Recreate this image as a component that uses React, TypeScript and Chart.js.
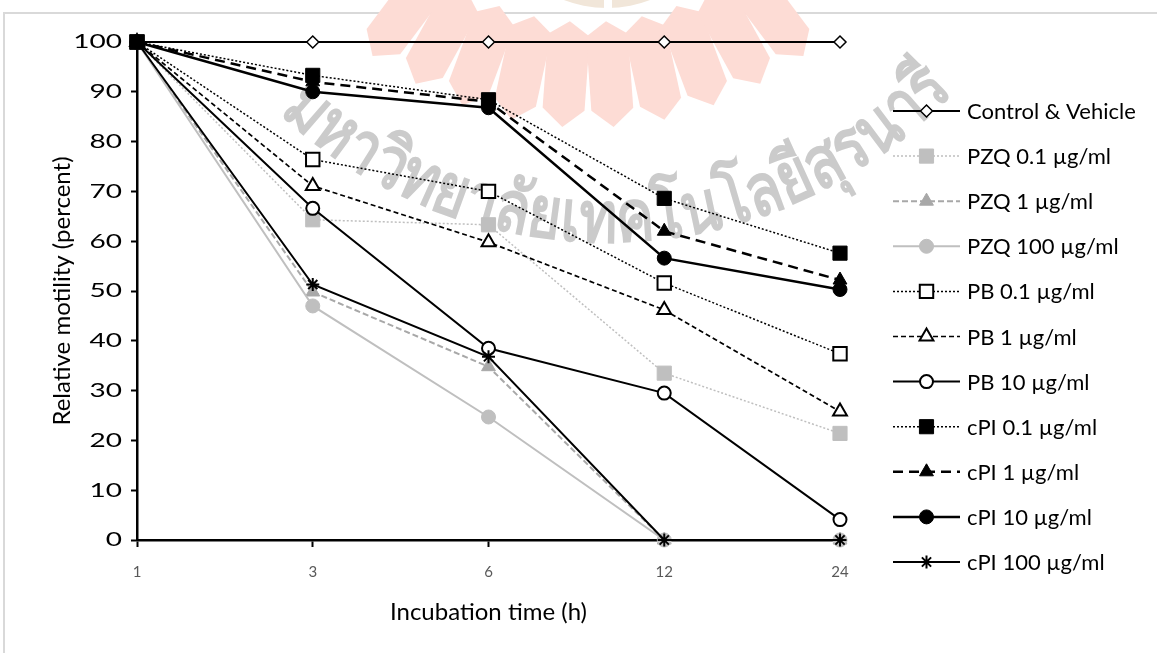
import React, { useEffect, useRef } from "react";
import { Chart, registerables } from "chart.js";

Chart.register(...registerables);

// ---------- data ----------
const timeLabels = ["1", "3", "6", "12", "24"];
const seriesNames = [
  "Control & Vehicle",
  "PZQ 0.1 µg/ml",
  "PZQ 1 µg/ml",
  "PZQ 100 µg/ml",
  "PB 0.1 µg/ml",
  "PB 1 µg/ml",
  "PB 10 µg/ml",
  "cPI 0.1 µg/ml",
  "cPI 1 µg/ml",
  "cPI 10 µg/ml",
  "cPI 100 µg/ml",
];
const controlVehicle = [100, 100, 100, 100, 100];
const pzq01 = [100, 64.3, 63.3, 33.5, 21.4];
const pzq1 = [100, 49.8, 34.8, 0, 0];
const pzq100 = [100, 47, 24.7, 0, 0];
const pb01 = [100, 76.4, 70, 51.6, 37.4];
const pb1 = [100, 71.1, 59.8, 46.2, 25.8];
const pb10 = [100, 66.6, 38.5, 29.5, 4.1];
const cpi01 = [100, 93.3, 88.4, 68.6, 57.6];
const cpi1 = [100, 92, 88, 62, 52.2];
const cpi10 = [100, 90, 86.8, 56.6, 50.3];
const cpi100 = [100, 51.3, 36.8, 0, 0];
const seriesValues = [controlVehicle, pzq01, pzq1, pzq100, pb01, pb1, pb10, cpi01, cpi1, cpi10, cpi100];

const yTitle = "Relative motility (percent)";
const xTitle = "Incubation time (h)";
const watermarkText = "มหาวิทยาลัยเทคโนโลยีสุรนารี";

// ---------- styles ----------
const LIGHT = "#bfbfbf";
const MID = "#a8a8a8";
type Sty = { color: string; width: number; dash: number[]; point: string; r: number; fill: string; pcolor: string; pw: number };
const styles: Sty[] = [
  { color: "#000", width: 2, dash: [], point: "rectRot", r: 6, fill: "#fff", pcolor: "#000", pw: 1.5 },
  { color: LIGHT, width: 1.5, dash: [2, 2], point: "rect", r: 10, fill: LIGHT, pcolor: LIGHT, pw: 1 },
  { color: MID, width: 2, dash: [6, 3], point: "triangle", r: 8, fill: MID, pcolor: MID, pw: 1 },
  { color: LIGHT, width: 2, dash: [], point: "circle", r: 7, fill: LIGHT, pcolor: LIGHT, pw: 1 },
  { color: "#000", width: 1.5, dash: [2, 2], point: "rect", r: 9.5, fill: "#fff", pcolor: "#000", pw: 2 },
  { color: "#000", width: 1.7, dash: [5, 3], point: "triangle", r: 8, fill: "#fff", pcolor: "#000", pw: 2 },
  { color: "#000", width: 2, dash: [], point: "circle", r: 6.5, fill: "#fff", pcolor: "#000", pw: 2 },
  { color: "#000", width: 1.5, dash: [2, 2], point: "rect", r: 10, fill: "#000", pcolor: "#000", pw: 1 },
  { color: "#000", width: 2.5, dash: [10, 6], point: "triangle", r: 8, fill: "#000", pcolor: "#000", pw: 1 },
  { color: "#000", width: 2.5, dash: [], point: "circle", r: 7, fill: "#000", pcolor: "#000", pw: 1 },
  { color: "#000", width: 2, dash: [], point: "star", r: 6.5, fill: "#000", pcolor: "#000", pw: 2 },
];

const FONT = "Lato, 'Open Sans', sans-serif";

function drawMarker(ctx: CanvasRenderingContext2D, s: Sty, x: number, y: number) {
  const r = s.r;
  ctx.save();
  ctx.setLineDash([]);
  ctx.lineWidth = s.pw;
  ctx.strokeStyle = s.pcolor;
  ctx.fillStyle = s.fill;
  ctx.beginPath();
  if (s.point === "circle") {
    ctx.arc(x, y, r, 0, Math.PI * 2);
  } else if (s.point === "rect") {
    const h = Math.SQRT1_2 * r;
    ctx.rect(x - h, y - h, 2 * h, 2 * h);
  } else if (s.point === "rectRot") {
    ctx.moveTo(x - r, y);
    ctx.lineTo(x, y - r);
    ctx.lineTo(x + r, y);
    ctx.lineTo(x, y + r);
    ctx.closePath();
  } else if (s.point === "triangle") {
    let a = 0;
    ctx.moveTo(x + Math.sin(a) * r, y - Math.cos(a) * r);
    a += (2 * Math.PI) / 3;
    ctx.lineTo(x + Math.sin(a) * r, y - Math.cos(a) * r);
    a += (2 * Math.PI) / 3;
    ctx.lineTo(x + Math.sin(a) * r, y - Math.cos(a) * r);
    ctx.closePath();
  } else if (s.point === "star") {
    ctx.moveTo(x, y - r);
    ctx.lineTo(x, y + r);
    ctx.moveTo(x - r, y);
    ctx.lineTo(x + r, y);
    const d = r * Math.SQRT1_2;
    ctx.moveTo(x - d, y - d);
    ctx.lineTo(x + d, y + d);
    ctx.moveTo(x - d, y + d);
    ctx.lineTo(x + d, y - d);
    ctx.stroke();
    ctx.restore();
    return;
  }
  ctx.fill();
  ctx.stroke();
  ctx.restore();
}

const legendPlugin = {
  id: "sideLegend",
  afterDraw(chart: any) {
    const ctx: CanvasRenderingContext2D = chart.ctx;
    const x0 = chart.chartArea.right + 53;
    const x1 = x0 + 67;
    const top = chart.chartArea.top + 69;
    const step = 45.1;
    chart.data.datasets.forEach((ds: any, i: number) => {
      const s = styles[i];
      const y = top + i * step;
      ctx.save();
      ctx.strokeStyle = s.color;
      ctx.lineWidth = s.width;
      ctx.setLineDash(s.dash);
      ctx.beginPath();
      ctx.moveTo(x0, y);
      ctx.lineTo(x1, y);
      ctx.stroke();
      ctx.restore();
      drawMarker(ctx, s, (x0 + x1) / 2, y);
      ctx.save();
      ctx.fillStyle = "#000";
      ctx.font = `22px ${FONT}`;
      ctx.textBaseline = "middle";
      ctx.textAlign = "left";
      ctx.fillText(ds.label, x1 + 7, y + 1);
      ctx.restore();
    });
    // y tick labels (wide, as in the source picture)
    const ys = chart.scales.y;
    ctx.save();
    ctx.fillStyle = "#000";
    ctx.font = `20px ${FONT}`;
    ctx.textBaseline = "middle";
    ctx.textAlign = "right";
    ys.ticks.forEach((t: any) => {
      const py = ys.getPixelForValue(t.value);
      ctx.save();
      ctx.translate(chart.chartArea.left - 15, py);
      ctx.scale(1.4, 1);
      ctx.fillText(String(t.value), 0, 0);
      ctx.restore();
    });
    ctx.restore();
  },
};

function clusters(s: string) {
  const out: string[] = [];
  for (const ch of s) {
    if (/[\u0E31\u0E34-\u0E3A\u0E47-\u0E4E]/.test(ch) && out.length) out[out.length - 1] += ch;
    else out.push(ch);
  }
  return out;
}

const backdropPlugin = {
  id: "backdrop",
  beforeDraw(chart: any) {
    const ctx: CanvasRenderingContext2D = chart.ctx;
    ctx.save();
    ctx.fillStyle = "#fff";
    ctx.fillRect(0, 0, chart.width, chart.height);
    ctx.strokeStyle = "#d9d9d9";
    ctx.lineWidth = 2;
    ctx.strokeRect(4, 13, chart.width + 20, chart.height + 20);
    ctx.restore();
  },
  beforeDatasetsDraw(chart: any) {
    const ctx: CanvasRenderingContext2D = chart.ctx;
    ctx.save();
    // emblem rays
    const cx = 588, cy = -230, r1 = 252, r2 = 358, w = 21;
    ctx.fillStyle = "#fddcd5";
    for (let k = 0; k < 10; k++) {
      const th = ((-37 + k * 8.22) * Math.PI) / 180;
      const ux = Math.sin(th), uy = Math.cos(th);
      const vx = Math.cos(th), vy = -Math.sin(th);
      const P = (u: number, v: number) => [cx + ux * u + vx * v, cy + uy * u + vy * v];
      const pts = [P(r1, 0), P(r1 + 14, w), P(r2 - 18, w), P(r2, 0), P(r2 - 18, -w), P(r1 + 14, -w)];
      ctx.beginPath();
      ctx.moveTo(pts[0][0], pts[0][1]);
      for (let j = 1; j < pts.length; j++) ctx.lineTo(pts[j][0], pts[j][1]);
      ctx.closePath();
      ctx.fill();
    }
    ctx.fillStyle = "#f1e6d9";
    ctx.beginPath();
    ctx.arc(607, -112, 120, 0, Math.PI);
    ctx.fill();
    ctx.fillStyle = "#fff";
    ctx.fillRect(604, 0, 8, 12);
    // curved text
    ctx.fillStyle = "#cbcbcb";
    ctx.font = `bold 72px "Noto Sans", "DejaVu Sans", sans-serif`;
    ctx.textBaseline = "alphabetic";
    ctx.textAlign = "left";
    const tcx = 606, tcy = -234, R = 476;
    const parts = clusters(watermarkText);
    const widths = parts.map((c) => ctx.measureText(c).width);
    const cum: number[] = [];
    let acc = 0;
    widths.forEach((w0) => {
      cum.push(acc + w0 / 2);
      acc += w0;
    });
    const a0 = (-41 * Math.PI) / 180;
    const a1 = (45 * Math.PI) / 180;
    const last = parts.length - 1;
    const k = ((a1 - a0) * R) / (cum[last] - cum[0]);
    parts.forEach((c, i) => {
      const mid = a0 + ((cum[i] - cum[0]) * k) / R;
      const px = tcx + R * Math.sin(mid);
      const py = tcy + R * Math.cos(mid);
      ctx.save();
      ctx.translate(px, py);
      ctx.rotate(-mid);
      ctx.scale(k, 1);
      ctx.fillText(c, -widths[i] / 2, 0);
      ctx.restore();
    });
    ctx.restore();
  },
};

export default function App() {
  const ref = useRef<HTMLCanvasElement | null>(null);
  useEffect(() => {
    if (!ref.current) return;
    const chart = new Chart(ref.current, {
      type: "line",
      data: {
        labels: timeLabels,
        datasets: seriesNames.map((name, i) => {
          const s = styles[i];
          return {
            label: name,
            data: seriesValues[i],
            borderColor: s.color,
            borderWidth: s.width,
            borderDash: s.dash,
            backgroundColor: s.fill,
            pointStyle: s.point as any,
            pointRadius: s.r,
            pointHoverRadius: s.r,
            pointBackgroundColor: s.fill,
            pointBorderColor: s.pcolor,
            pointBorderWidth: s.pw,
            tension: 0,
            fill: false,
            clip: false as any,
            order: seriesNames.length - i,
          };
        }),
      },
      options: {
        animation: false,
        responsive: false,
        devicePixelRatio: 1,
        layout: { padding: { left: 44, right: 317, top: 42, bottom: 22 } },
        plugins: { legend: { display: false }, tooltip: { enabled: false } },
        scales: {
          x: {
            type: "category",
            offset: false,
            grid: { drawOnChartArea: false, drawTicks: true, tickLength: 7, tickColor: "#000", tickWidth: 2 },
            border: { color: "#000", width: 2.5 },
            ticks: { color: "#595959", font: { family: FONT, size: 15 }, padding: 16, maxRotation: 0 },
            title: { display: true, text: xTitle, color: "#000", font: { family: FONT, size: 24 }, padding: { top: 4, bottom: 4 } },
            afterFit: (scale: any) => {
              scale.height = 91;
            },
          },
          y: {
            min: 0,
            max: 100,
            ticks: { stepSize: 10, color: "rgba(0,0,0,0)", font: { family: FONT, size: 18 }, padding: 9 },
            grid: { drawOnChartArea: false, drawTicks: true, tickLength: 6, tickColor: "#000", tickWidth: 2 },
            border: { color: "#000", width: 2.5 },
            title: { display: true, text: yTitle, color: "#000", font: { family: FONT, size: 24 }, padding: { top: 4, bottom: 4 } },
            afterFit: (scale: any) => {
              scale.width = 93;
            },
          },
        },
      },
      plugins: [backdropPlugin, legendPlugin],
    });
    return () => chart.destroy();
  }, []);
  return (
    <div style={{ position: "fixed", left: 0, top: 0, width: 1157, height: 653, background: "#fff" }}>
      <canvas ref={ref} width={1157} height={653} style={{ display: "block", width: 1157, height: 653 }} />
    </div>
  );
}
